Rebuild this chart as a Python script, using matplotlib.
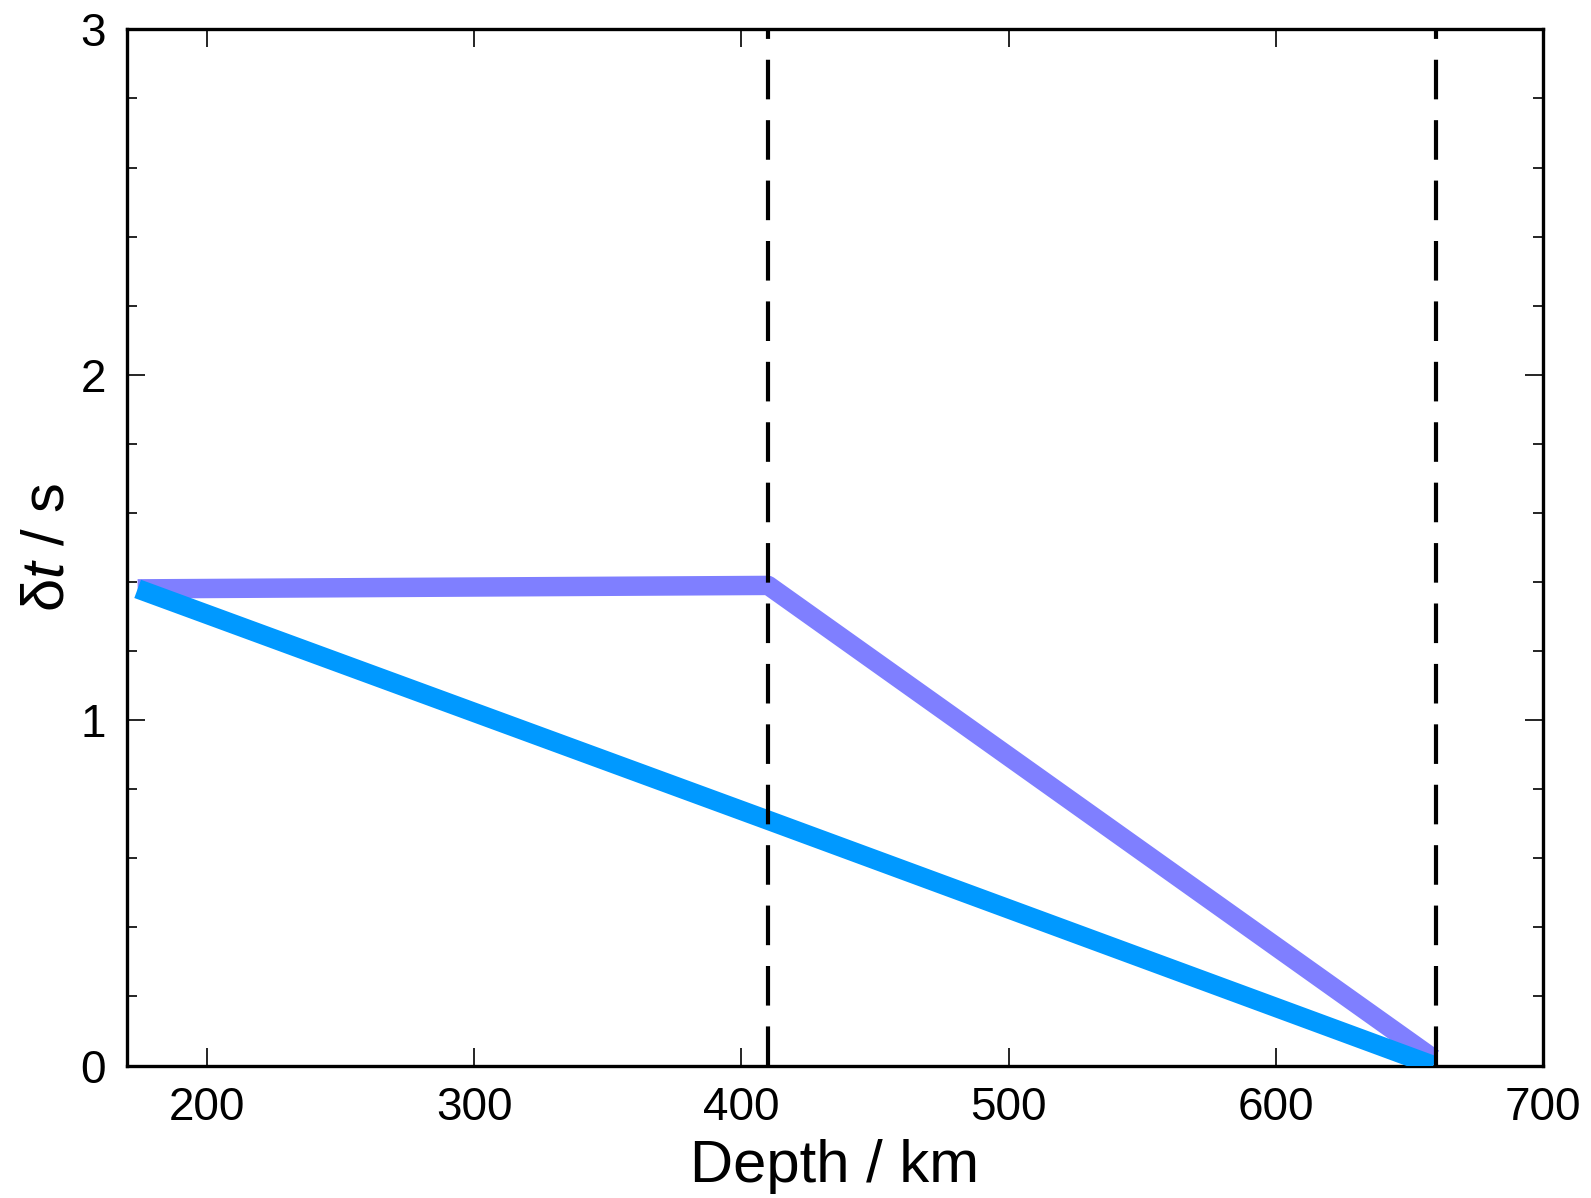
import matplotlib

matplotlib.use("Agg")
import matplotlib.pyplot as plt  # noqa: E402
from matplotlib.ticker import MultipleLocator  # noqa: E402

plt.rcParams["font.family"] = ["Liberation Sans", "DejaVu Sans"]
plt.rcParams["mathtext.fontset"] = "custom"
plt.rcParams["mathtext.rm"] = "Liberation Sans"
plt.rcParams["mathtext.it"] = "Liberation Sans:italic"

# depth (km) vs delay time (s)
depth_purple = [174, 410, 659]
dt_purple = [1.38, 1.39, 0.02]
depth_blue = [174, 410, 659]
dt_blue = [1.38, 0.71, 0.0]
disc_depths = [410, 660]

fig = plt.figure(figsize=(15.91, 11.98), dpi=100)
ax = fig.add_axes([0.0798, 0.1106, 0.89, 0.8649])

ax.plot(depth_purple, dt_purple, color="#7f7fff", lw=14, solid_capstyle="butt", zorder=2)
ax.plot(depth_blue, dt_blue, color="#0099ff", lw=14, solid_capstyle="butt", zorder=3)
for d in disc_depths:
    ax.axvline(d, color="black", lw=3, ls=(0, (9.5, 5)), zorder=4)

ax.set_xlim(170, 700)
ax.set_ylim(0, 3)
ax.xaxis.set_major_locator(MultipleLocator(100))
ax.yaxis.set_major_locator(MultipleLocator(1))
ax.yaxis.set_minor_locator(MultipleLocator(0.2))
ax.tick_params(which="both", direction="in", top=True, right=True, labelsize=33, pad=15)
ax.tick_params(which="major", length=13, width=1.2)
ax.tick_params(which="minor", length=7, width=1.2)
ax.tick_params(axis="x", which="minor", bottom=False, top=False)
for s in ax.spines.values():
    s.set_linewidth(2.4)

ax.set_xlabel("Depth / km", fontsize=43, labelpad=6)
ax.set_ylabel(r"δ$t$ / s", fontsize=43, labelpad=4)

fig.savefig("out.png", dpi=100)
